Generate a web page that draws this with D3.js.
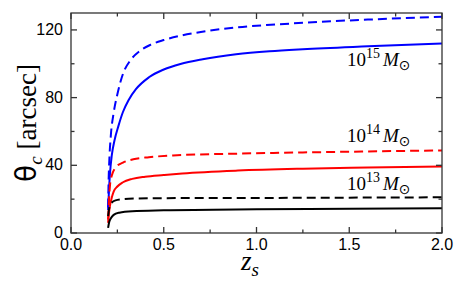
<!DOCTYPE html>
<html>
<head>
<meta charset="utf-8">
<script src="https://cdn.jsdelivr.net/npm/d3@7"></script>
<style>
  body { margin: 0; background: #fff; }
</style>
</head>
<body>
<script>
"use strict";

// source redshift samples for each curve
const zBlueDash = [0.2, 0.203, 0.207, 0.215, 0.23, 0.25, 0.28, 0.32, 0.37, 0.43, 0.5, 0.6, 0.7, 0.9, 1.1, 1.25, 1.4, 1.6, 1.8, 2.0];
const thBlueDash = [15, 32, 44, 58, 71, 82, 94, 102, 107.5, 111.3, 114, 116.8, 118.8, 121.6, 123.2, 124.2, 125.1, 126.1, 127, 127.8];

const zBlueSolid = [0.2, 0.205, 0.21, 0.22, 0.235, 0.255, 0.28, 0.31, 0.35, 0.42, 0.5, 0.59, 0.71, 0.89, 1.07, 1.25, 1.6, 2.0];
const thBlueSolid = [13.6, 26, 35, 46, 55, 63, 71.5, 78.5, 85, 92, 96.6, 99.9, 102.7, 105.6, 107.4, 108.6, 110.3, 112];

const zRedDash = [0.2, 0.205, 0.21, 0.22, 0.246, 0.28, 0.336, 0.42, 0.55, 0.9, 1.25, 1.6, 2.0];
const thRedDash = [8, 20, 28, 34, 39.3, 41.6, 43.6, 44.8, 45.8, 46.9, 47.6, 48.2, 48.8];

const zRedSolid = [0.2, 0.205, 0.21, 0.22, 0.23, 0.25, 0.28, 0.33, 0.4, 0.5, 0.6, 0.9, 1.25, 1.6, 2.0];
const thRedSolid = [6, 12, 16, 21, 24.5, 27.5, 30, 32, 33.3, 34.3, 35.2, 36.9, 38, 38.7, 39.3];

const zBlackDash = [0.2, 0.205, 0.21, 0.22, 0.24, 0.28, 0.35, 0.5, 1.0, 1.5, 2.0];
const thBlackDash = [10, 14, 16.5, 18, 19.3, 20, 20.4, 20.6, 20.7, 20.9, 21.1];

const zBlackSolid = [0.2, 0.205, 0.21, 0.22, 0.23, 0.26, 0.33, 0.5, 1.0, 1.5, 2.0];
const thBlackSolid = [3, 6, 7.7, 9.5, 10.7, 12, 12.9, 13.4, 14, 14.3, 14.6];

const massLabels = ["15", "14", "13"];
const labelValues = [98.5, 54, 25.5]; // theta level of label baselines

const xMajor = [0, 0.5, 1.0, 1.5, 2.0];
const xMinor = [0.25, 0.75, 1.25, 1.75];
const yMajor = [0, 40, 80, 120];
const yMinor = [20, 60, 100];

const series = [
  { z: zBlueDash, th: thBlueDash, color: "#0000ff", dash: true },
  { z: zBlueSolid, th: thBlueSolid, color: "#0000ff", dash: false },
  { z: zRedDash, th: thRedDash, color: "#ff0000", dash: true },
  { z: zRedSolid, th: thRedSolid, color: "#ff0000", dash: false },
  { z: zBlackDash, th: thBlackDash, color: "#000000", dash: true },
  { z: zBlackSolid, th: thBlackSolid, color: "#000000", dash: false }
];

const W = 457, H = 282;
const margin = { top: 13, right: 15, bottom: 49, left: 71 };
const SANS = "'Liberation Sans', Arial, Helvetica, sans-serif";
const SERIF = "'Liberation Serif', 'Times New Roman', serif";

const x = d3.scaleLinear().domain([0, 2]).range([margin.left, W - margin.right]);
const y = d3.scaleLinear().domain([0, 130]).range([H - margin.bottom, margin.top]);

const svg = d3.select("body").append("svg")
  .attr("width", W).attr("height", H);

svg.append("clipPath").attr("id", "plot")
  .append("rect")
  .attr("x", x(0)).attr("y", y(130))
  .attr("width", x(2) - x(0)).attr("height", y(0) - y(130));

const line = d3.line()
  .x((d) => x(d[0]))
  .y((d) => y(d[1]))
  .curve(d3.curveMonotoneX);

svg.append("g")
  .attr("clip-path", "url(#plot)")
  .selectAll("path")
  .data(series)
  .join("path")
  .attr("fill", "none")
  .attr("stroke", (d) => d.color)
  .attr("stroke-width", 2)
  .attr("stroke-dasharray", (d) => (d.dash ? "9,5" : null))
  .attr("d", (d) => line(d.z.map((z, i) => [z, d.th[i]])));

// frame and inward ticks
const axes = svg.append("g").attr("stroke", "#333").attr("stroke-width", 1.3);

const yBot = y(0), yTop = y(130), xLeft = x(0), xRight = x(2);

function tickRow(vals, len, g) {
  vals.forEach((v) => {
    g.append("line").attr("x1", x(v)).attr("x2", x(v)).attr("y1", yBot).attr("y2", yBot - len);
    g.append("line").attr("x1", x(v)).attr("x2", x(v)).attr("y1", yTop).attr("y2", yTop + len);
  });
}
function tickCol(vals, len, g) {
  vals.forEach((v) => {
    g.append("line").attr("y1", y(v)).attr("y2", y(v)).attr("x1", xLeft).attr("x2", xLeft + len);
    g.append("line").attr("y1", y(v)).attr("y2", y(v)).attr("x1", xRight).attr("x2", xRight - len);
  });
}
tickRow(xMajor, 6, axes);
tickRow(xMinor, 3.5, axes);
tickCol(yMajor, 6, axes);
tickCol(yMinor, 3.5, axes);

axes.append("rect")
  .attr("x", xLeft).attr("y", yTop)
  .attr("width", xRight - xLeft).attr("height", yBot - yTop)
  .attr("fill", "none");

// tick labels
svg.append("g")
  .attr("font-family", SANS)
  .attr("font-size", 16)
  .attr("text-anchor", "middle")
  .selectAll("text")
  .data(xMajor)
  .join("text")
  .attr("x", (d) => x(d))
  .attr("y", yBot + 17)
  .text((d) => d3.format(".1f")(d));

svg.append("g")
  .attr("font-family", SANS)
  .attr("font-size", 16)
  .attr("text-anchor", "end")
  .selectAll("text")
  .data(yMajor)
  .join("text")
  .attr("x", xLeft - 8)
  .attr("y", (d) => y(d) + 5)
  .text((d) => d);

// axis titles
const xt = svg.append("text")
  .attr("font-family", SERIF)
  .attr("font-style", "italic")
  .attr("font-size", 27)
  .attr("text-anchor", "middle")
  .attr("x", 250)
  .attr("y", 270);
xt.append("tspan").text("z");
xt.append("tspan").attr("font-size", 19).attr("dy", 6).text("s");

const yt = svg.append("text")
  .attr("font-family", SERIF)
  .attr("font-size", 27)
  .attr("text-anchor", "middle")
  .attr("transform", `translate(36, ${(yTop + yBot) / 2}) rotate(-90)`);
yt.append("tspan").attr("font-family", "'DejaVu Sans', sans-serif").attr("font-size", 28).text("θ");
yt.append("tspan").attr("font-style", "italic").attr("font-size", 19).attr("dy", 6).text("c");
yt.append("tspan").attr("font-family", SERIF).attr("dy", -6).text(" [arcsec]");

// mass labels
const ml = svg.append("g")
  .attr("font-family", SERIF)
  .attr("font-size", 19)
  .selectAll("text")
  .data(massLabels)
  .join("text")
  .attr("x", 347)
  .attr("y", (d, i) => y(labelValues[i]));
ml.append("tspan").text("10");
ml.append("tspan").attr("font-size", 14).attr("dy", -8).text((d) => d);
ml.append("tspan").attr("font-style", "italic").attr("dy", 8).attr("dx", 3).text("M");
ml.append("tspan").attr("font-family", "'DejaVu Sans', sans-serif").attr("font-size", 14).attr("dy", 4).text("⊙");
</script>
</body>
</html>
